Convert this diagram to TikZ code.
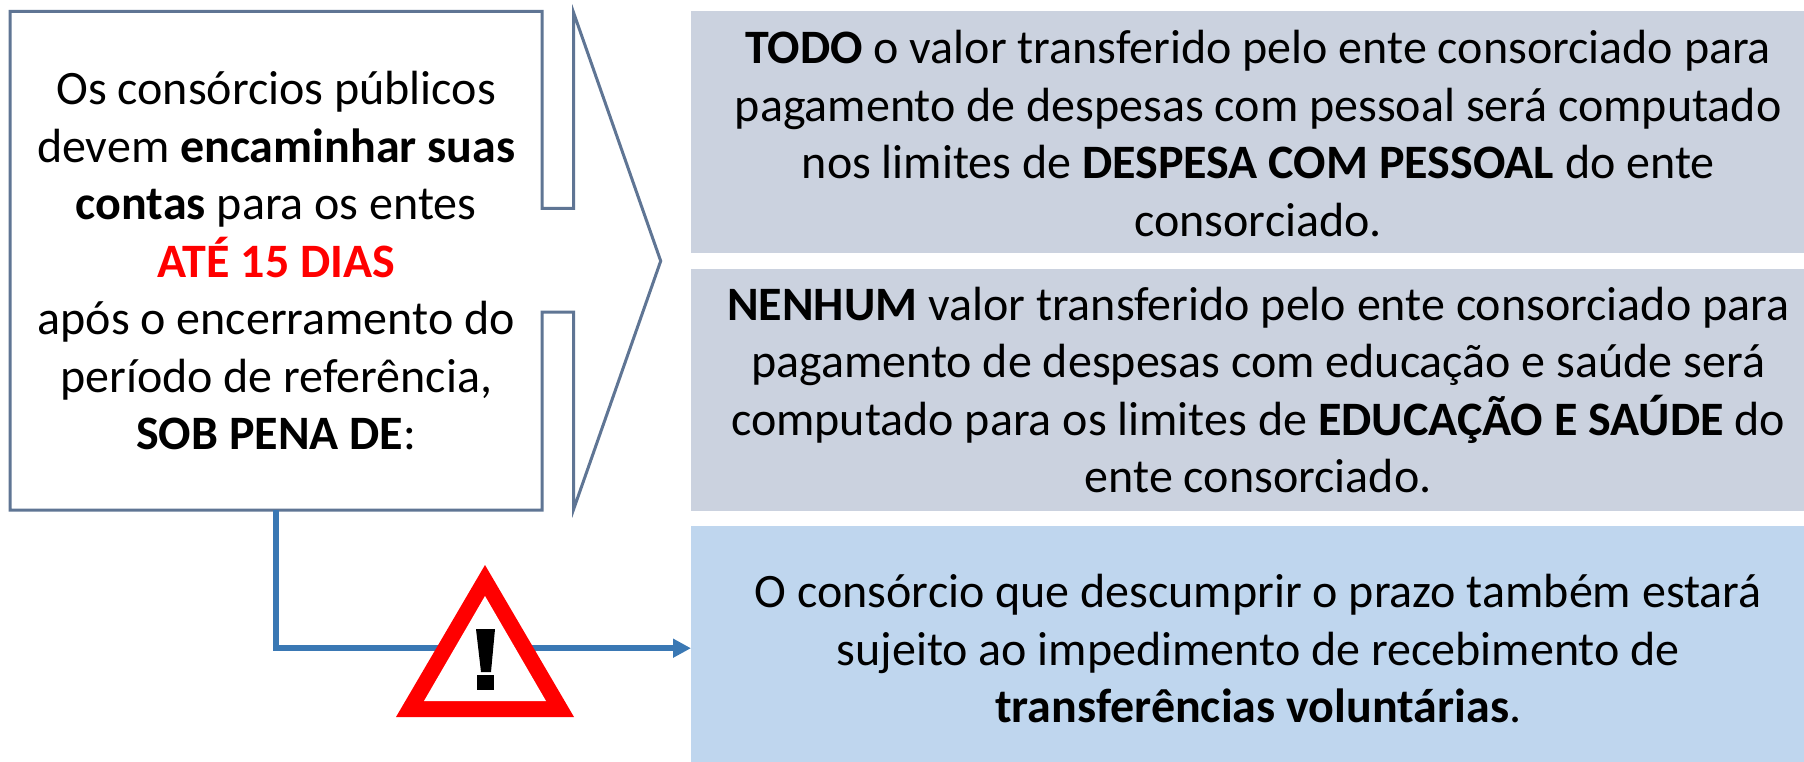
\documentclass[tikz,border=0pt]{standalone}
\usepackage{fontspec}
\setmainfont{Carlito}
\usetikzlibrary{arrows.meta}
\definecolor{outl}{HTML}{5F7594}
\definecolor{greybox}{HTML}{CBD2DF}
\definecolor{bluebox}{HTML}{BFD6EE}
\definecolor{arrowblue}{HTML}{3A78B4}
\definecolor{alertred}{HTML}{FF0000}
\tikzset{
  x=1pt,y=-1pt,
  txt/.style={font=\fontsize{48}{57.5}\selectfont,align=center,text=black,inner sep=0pt},
  panel/.style={minimum width=1113pt,anchor=north west,inner sep=0pt},
  connector/.style={draw=arrowblue,line width=6pt,-{Triangle[length=18pt,width=18pt]}},
  callout/.style={draw=outl,line width=3pt,fill=white,line join=miter,miter limit=10},
}
\begin{document}
\begin{tikzpicture}
\useasboundingbox (0,0) rectangle (1804,762);
\fill[white] (0,0) rectangle (1804,762);
% callout outline
\draw[callout] (10,11.5) -- (542,11.5) -- (542,208.5) -- (573.7,208.5) -- (573.7,13) -- (660.7,261) -- (573.7,509) -- (573.7,312) -- (542,312) -- (542,510) -- (10,510) -- cycle;
\node[txt,minimum width=532pt,minimum height=498.5pt,anchor=north west] (left) at (10,11.5) {Os consórcios públicos\\devem \textbf{encaminhar suas}\\\textbf{contas} para os entes\\\textcolor{alertred}{\textbf{ATÉ 15 DIAS}}\\após o encerramento do\\período de referência,\\\textbf{SOB PENA DE}:};
% panels
\node[panel,fill=greybox,minimum height=242pt] (p1) at (691,11) {};
\node[panel,fill=greybox,minimum height=242pt] (p2) at (691,269) {};
\node[panel,fill=bluebox,minimum height=236pt] (p3) at (691,526) {};
\node[txt] (t1) at ([xshift=10.5pt,yshift=-1.5pt]p1.center) {\textbf{TODO} o valor transferido pelo ente consorciado para\\pagamento de despesas com pessoal será computado\\nos limites de \textbf{DESPESA COM PESSOAL} do ente\\consorciado.};
\node[txt] (t2) at ([xshift=10.5pt]p2.center) {\textbf{NENHUM} valor transferido pelo ente consorciado para\\pagamento de despesas com educação e saúde será\\computado para os limites de \textbf{EDUCAÇÃO E SAÚDE} do\\ente consorciado.};
\node[txt] (t3) at ([xshift=10.5pt,yshift=-4.5pt]p3.center) {O consórcio que descumprir o prazo também estará\\sujeito ao impedimento de recebimento de\\\textbf{transferências voluntárias}.};
\coordinate (p3in) at ([yshift=-4pt]p3.west);
% connector
\draw[connector] (left.south) |- (p3in);
% warning sign
\fill[alertred] (485,565) -- (574,717) -- (396,717) -- cycle;
\fill[white] (485,596) -- (546,701) -- (424,701) -- cycle;
\fill[black] (476,629) -- (495,629) -- (491,672) -- (481,672) -- cycle;
\fill[black] (476.5,675) rectangle (494,690);
\end{tikzpicture}
\end{document}
